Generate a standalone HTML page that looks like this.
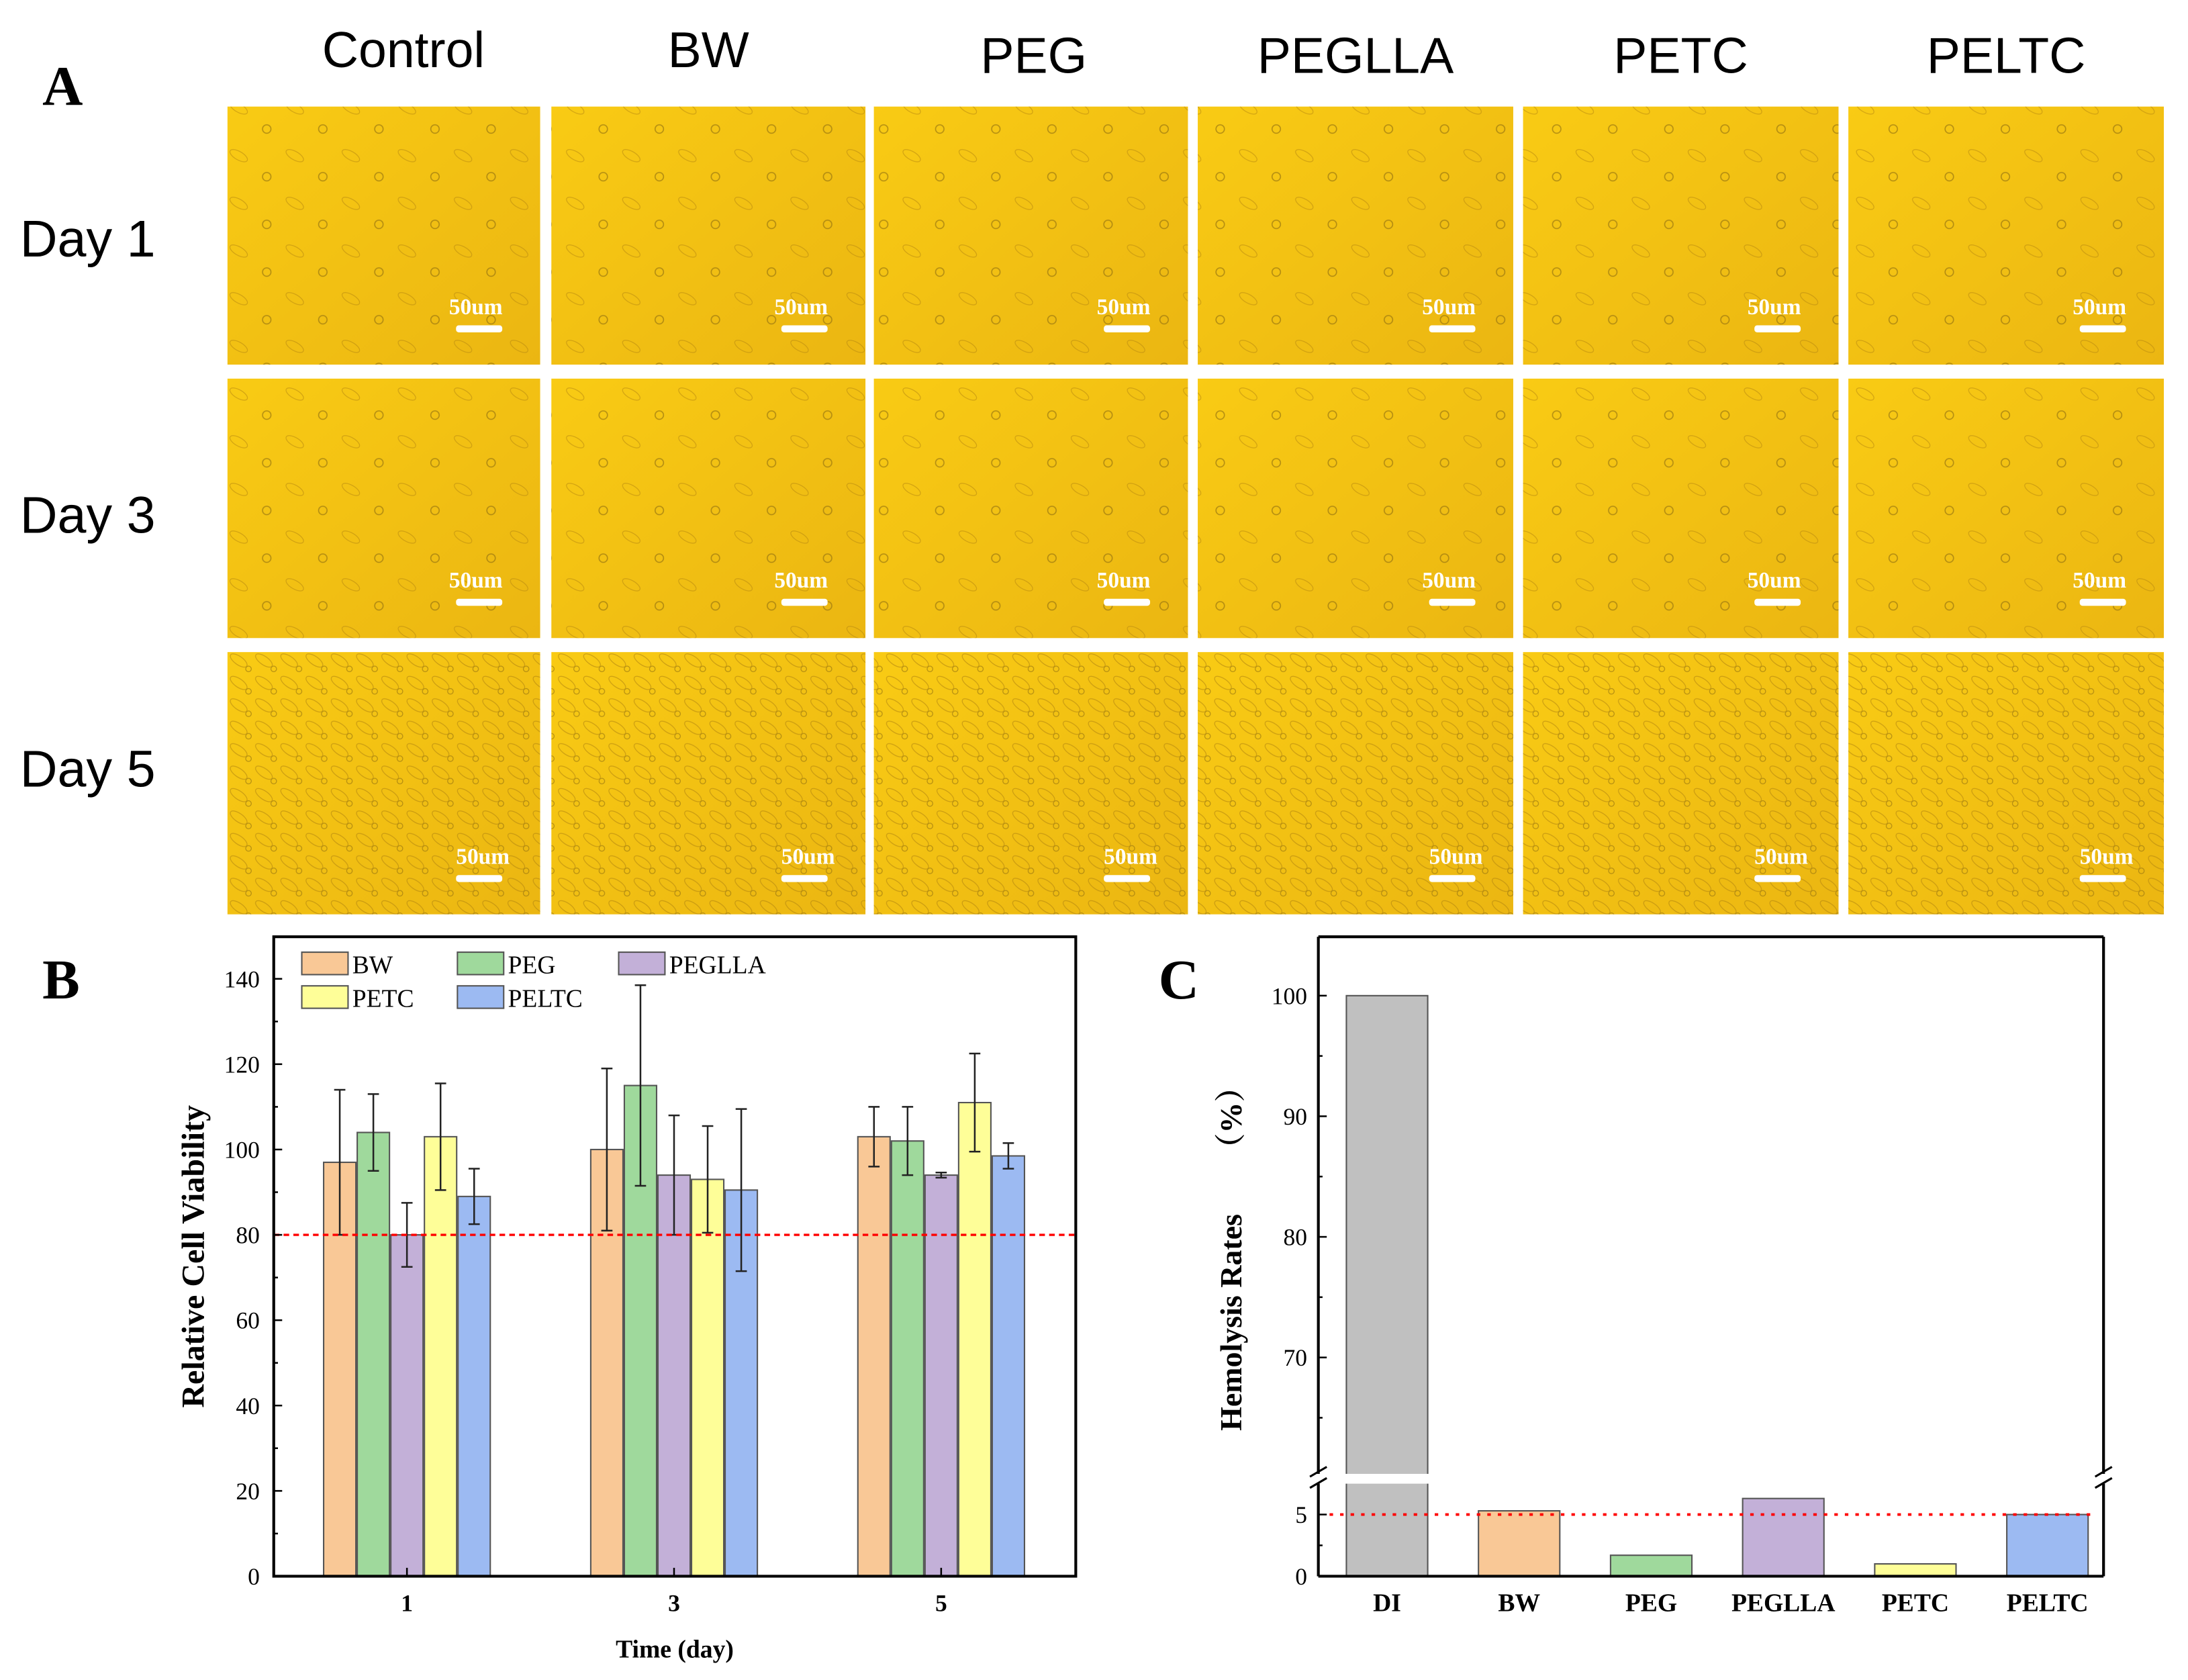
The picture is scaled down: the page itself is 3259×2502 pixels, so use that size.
<!DOCTYPE html>
<html><head><meta charset="utf-8"><style>
html,body{margin:0;padding:0;background:#fff;}
svg{display:block;}
</style></head><body>
<svg id="fig" width="3259" height="2502" viewBox="0 0 1560 1198" xmlns="http://www.w3.org/2000/svg" font-family="Liberation Serif, serif">
<defs>
<linearGradient id="yel" x1="0" y1="0" x2="1" y2="1">
<stop offset="0" stop-color="#f9cb14"/><stop offset="1" stop-color="#ebb612"/>
</linearGradient>
<pattern id="cells" width="40" height="34" patternUnits="userSpaceOnUse">
<ellipse cx="10" cy="9" rx="7" ry="3" fill="none" stroke="#b98a10" stroke-width="0.6" transform="rotate(30 10 9)"/>
<circle cx="30" cy="24" r="3" fill="none" stroke="#8a6a10" stroke-width="0.8"/>
</pattern>
<pattern id="cells5" width="18" height="16" patternUnits="userSpaceOnUse">
<ellipse cx="8" cy="7" rx="7" ry="3" fill="none" stroke="#b08310" stroke-width="0.6" transform="rotate(35 8 7)"/>
<circle cx="15" cy="13" r="2" fill="none" stroke="#8a6a10" stroke-width="0.6"/>
</pattern>
</defs>
<g id="panelA"></g>
<text x="30" y="75" font-size="40" font-weight="bold">A</text>
<text x="30" y="712" font-size="40" font-weight="bold">B</text>
<text x="826" y="712" font-size="40" font-weight="bold">C</text>
<g id="panelB"></g>
<g id="panelC"></g>
</svg>
<script>
const NS='http://www.w3.org/2000/svg';
function mk(parent,tag,attrs,text){const e=document.createElementNS(NS,tag);for(const k in attrs)e.setAttribute(k,attrs[k]);if(text!==undefined)e.textContent=text;parent.appendChild(e);return e;}

// ---------- Panel A ----------
const colLabels=['Control','BW','PEG','PEGLLA','PETC','PELTC'];
const rowLabels=['Day 1','Day 3','Day 5'];
const A=document.getElementById('panelA');
const colX=[162,393,623,854,1086,1318];
const colW=[223,224,224,225,225,225];
const rowY=[76,270,465];
const rowH=[184,185,187];
const sans='Liberation Sans, DejaVu Sans, sans-serif';
colLabels.forEach((c,i)=>{
  const t=mk(A,'text',{x:colX[i]+colW[i]/2+(i==0?14:i==2?2:0),y:i<2?48:52,'font-size':36,'font-family':sans,'text-anchor':'middle'},c);
  
  
});
rowLabels.forEach((r,j)=>{
  const t=mk(A,'text',{x:14,y:[183,380,561][j],'font-size':37,'font-family':sans},r);
  
  
  colX.forEach((x,i)=>{
    const g=mk(A,'g',{});
    
    
    mk(g,'rect',{x:x,y:rowY[j],width:colW[i],height:rowH[j],fill:'url(#yel)'});
    mk(g,'rect',{x:x,y:rowY[j],width:colW[i],height:rowH[j],fill:j==2?'url(#cells5)':'url(#cells)',opacity:0.6});
    const bx=x+colW[i]-60, by=rowY[j]+rowH[j]-22;
    mk(g,'text',{x:bx+(j==2?0:-5),y:by-14,'font-size':16,'font-weight':'bold',fill:'#fff'},'50um');
    mk(g,'rect',{x:bx,y:by-6,width:33,height:5,fill:'#fff',rx:2});
  });
});

// ---------- Panel B ----------
const days=['1','3','5'];
const series=['BW','PEG','PEGLLA','PETC','PELTC'];
const colors=['#f9c896','#9fd99c','#c3b0d8','#fefe98','#9cbaf2'];
const valBW=[97,100,103];
const valPEG=[104,115,102];
const valPEGLLA=[80,94,94];
const valPETC=[103,93,111];
const valPELTC=[89,90.5,98.5];
const errBW=[17,19,7];
const errPEG=[9,23.5,8];
const errPEGLLA=[7.5,14,0.6];
const errPETC=[12.5,12.5,11.5];
const errPELTC=[6.5,19,3];
const yTicksB=[0,20,40,60,80,100,120,140];
const vals=[valBW,valPEG,valPEGLLA,valPETC,valPELTC];
const errs=[errBW,errPEG,errPEGLLA,errPETC,errPELTC];
const B=document.getElementById('panelB');
const bL=195,bR=767,bT=668,bB=1124;
const yB=v=>1124-(v/140)*(1124-698);
const xB=i=>290+i*190.5;
const bw=23;
series.forEach((s,k)=>{
  days.forEach((d,i)=>{
    const v=vals[k][i],e=errs[k][i];
    const x=xB(i)+(k-2)*bw*1.02-bw/2+(k-2)*0.5;
    const r=mk(B,'rect',{x:x,y:yB(v),width:bw,height:yB(0)-yB(v),fill:colors[k],stroke:'#555','stroke-width':1});
    
    
    const cx=x+bw/2;
    const eb=mk(B,'path',{d:`M${cx},${yB(v+e)}V${yB(v-e)}M${cx-4},${yB(v+e)}H${cx+4}M${cx-4},${yB(v-e)}H${cx+4}`,stroke:'#222','stroke-width':1.2,fill:'none'});
    
    
  });
});
const thB=mk(B,'line',{x1:bL,x2:bR,y1:yB(80),y2:yB(80),stroke:'#f00','stroke-width':1.6,'stroke-dasharray':'4,3'});


const frB=mk(B,'rect',{x:bL,y:bT,width:bR-bL,height:bB-bT,fill:'none',stroke:'#000','stroke-width':2});


for(let v=0;v<=140;v+=10){mk(B,'line',{x1:bL,x2:bL+(v%20?3:6),y1:yB(v),y2:yB(v),stroke:'#000','stroke-width':1.2});}
yTicksB.forEach(v=>{
  const t=mk(B,'text',{x:bL-10,y:yB(v)+6,'font-size':17,'text-anchor':'end'},String(v));
  
  
});
days.forEach((d,i)=>{
  mk(B,'line',{x1:xB(i),x2:xB(i),y1:bB,y2:bB-6,stroke:'#000','stroke-width':1.2});
  const t=mk(B,'text',{x:xB(i),y:1149,'font-size':17,'font-weight':'bold','text-anchor':'middle'},d);
  
  
});
const xtB=mk(B,'text',{x:481,y:1182,'font-size':18,'font-weight':'bold','text-anchor':'middle'},'Time (day)');


const ytB=mk(B,'text',{x:0,y:0,'font-size':23,'font-weight':'bold','text-anchor':'middle',transform:'translate(145,896) rotate(-90)'},'Relative Cell Viability');


const legPos=[[215,679],[326,679],[441,679],[215,703],[326,703]];
series.forEach((s,k)=>{
  const g=mk(B,'g',{});
  
  
  mk(g,'rect',{x:legPos[k][0],y:legPos[k][1],width:33,height:16,fill:colors[k],stroke:'#555','stroke-width':1});
  mk(g,'text',{x:legPos[k][0]+36,y:legPos[k][1]+15,'font-size':18},s);
});

// ---------- Panel C ----------
const catsC=['DI','BW','PEG','PEGLLA','PETC','PELTC'];
const valC=[100,5.3,1.7,6.3,1.0,5.0];
const colC=['#c0c0c0','#f9c896','#9fd99c','#c3b0d8','#fefe98','#9cbaf2'];
const yTicksLow=[0,5];
const yTicksHigh=[70,80,90,100];
const C=document.getElementById('panelC');
const cL=940,cR=1500,cT=668,cB=1124;
const yLow=v=>1124-v*8.8;
const yHigh=v=>710+(100-v)*8.6;
const brk=1054;
const yC=v=>v<=7?yLow(v):yHigh(v);
const xC=i=>989+i*94.2;
const cw=58;
catsC.forEach((c,i)=>{
  const v=valC[i];
  const top=yC(v);
  const r=mk(C,'rect',{x:xC(i)-cw/2,y:top,width:cw,height:cB-top,fill:colC[i],stroke:'#555','stroke-width':1});
  
  
  const t=mk(C,'text',{x:xC(i),y:1149,'font-size':18,'font-weight':'bold','text-anchor':'middle'},c);
  
  
});
mk(C,'rect',{x:cL-8,y:brk-3,width:cR-cL+16,height:7,fill:'#fff'});
mk(C,'line',{x1:cL,x2:cL,y1:cT,y2:cB,stroke:'#000','stroke-width':2});
mk(C,'line',{x1:cR,x2:cR,y1:cT,y2:cB,stroke:'#000','stroke-width':2});
mk(C,'line',{x1:cL,x2:cR,y1:cT,y2:cT,stroke:'#000','stroke-width':2});
mk(C,'line',{x1:cL,x2:cR,y1:cB,y2:cB,stroke:'#000','stroke-width':2});
mk(C,'rect',{x:cL-8,y:brk-3,width:16,height:7,fill:'#fff'});
mk(C,'rect',{x:cR-8,y:brk-3,width:16,height:7,fill:'#fff'});
[cL,cR].forEach(x=>{
  mk(C,'path',{d:`M${x-6},${brk-1}L${x+6},${brk-8}M${x-6},${brk+7}L${x+6},${brk}`,stroke:'#000','stroke-width':1.5});
});
const thC=mk(C,'line',{x1:cL+8,x2:cR-5,y1:yLow(5),y2:yLow(5),stroke:'#f00','stroke-width':1.8,'stroke-dasharray':'2.5,5'});


yTicksLow.forEach(v=>{
  mk(C,'line',{x1:cL,x2:cL+6,y1:yLow(v),y2:yLow(v),stroke:'#000','stroke-width':1.2});
  const t=mk(C,'text',{x:cL-8,y:yLow(v)+6,'font-size':17,'text-anchor':'end'},String(v));
  
  
});
mk(C,'line',{x1:cL,x2:cL+3,y1:yLow(2.5),y2:yLow(2.5),stroke:'#000','stroke-width':1.2});
yTicksHigh.forEach(v=>{
  mk(C,'line',{x1:cL,x2:cL+6,y1:yHigh(v),y2:yHigh(v),stroke:'#000','stroke-width':1.2});
  mk(C,'line',{x1:cL,x2:cL+3,y1:yHigh(v-5),y2:yHigh(v-5),stroke:'#000','stroke-width':1.2});
  const t=mk(C,'text',{x:cL-8,y:yHigh(v)+6,'font-size':17,'text-anchor':'end'},String(v));
  
  
});
const ytC=mk(C,'text',{x:0,y:0,'font-size':22,'font-weight':'bold','text-anchor':'middle',transform:'translate(885,943) rotate(-90)'},'Hemolysis Rates');


const ytU=mk(C,'text',{x:0,y:0,'font-size':22,'font-weight':'bold','text-anchor':'middle',transform:'translate(885,797) rotate(-90)','font-family':'Liberation Serif, Noto Serif CJK SC, serif'},'\uFF08%\uFF09');


</script>
</body></html>
